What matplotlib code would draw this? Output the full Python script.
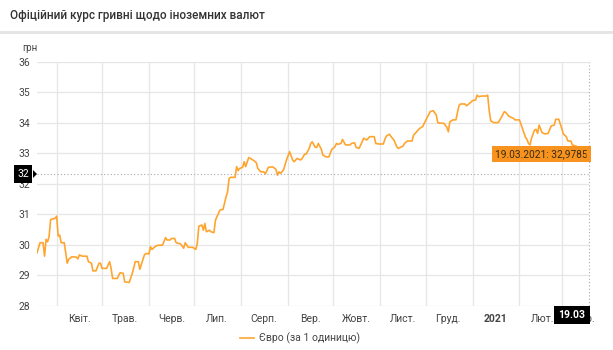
import matplotlib
matplotlib.use("Agg")
import matplotlib.pyplot as plt
import matplotlib.dates as mdates
import matplotlib.transforms as mtransforms
import pandas as pd
from matplotlib.patches import Polygon

plt.rcParams['font.family'] = ['Roboto', 'DejaVu Sans']

title = "Офіційний курс гривні щодо іноземних валют"
series_name = "Євро (за 1 одиницю)"
unit = "грн"

dates = [
    "2020-03-19", "2020-03-21", "2020-03-23", "2020-03-24", "2020-03-25", "2020-03-26", "2020-03-27", "2020-03-28",
    "2020-03-31", "2020-04-01", "2020-04-02", "2020-04-03", "2020-04-04", "2020-04-06", "2020-04-08", "2020-04-09",
    "2020-04-11", "2020-04-14", "2020-04-15", "2020-04-16", "2020-04-18", "2020-04-21", "2020-04-22", "2020-04-24",
    "2020-04-25", "2020-04-27", "2020-04-29", "2020-04-30", "2020-05-01", "2020-05-04", "2020-05-06", "2020-05-07",
    "2020-05-08", "2020-05-11", "2020-05-13", "2020-05-15", "2020-05-16", "2020-05-19", "2020-05-21", "2020-05-23",
    "2020-05-25", "2020-05-26", "2020-05-29", "2020-05-30", "2020-06-01", "2020-06-02", "2020-06-03", "2020-06-05",
    "2020-06-07", "2020-06-10", "2020-06-12", "2020-06-13", "2020-06-15", "2020-06-16", "2020-06-18", "2020-06-19",
    "2020-06-22", "2020-06-24", "2020-06-25", "2020-06-27", "2020-06-30", "2020-07-02", "2020-07-03", "2020-07-04",
    "2020-07-06", "2020-07-07", "2020-07-08", "2020-07-09", "2020-07-11", "2020-07-12", "2020-07-14", "2020-07-15",
    "2020-07-17", "2020-07-18", "2020-07-20", "2020-07-22", "2020-07-23", "2020-07-24", "2020-07-25", "2020-07-28",
    "2020-07-29", "2020-07-30", "2020-07-31", "2020-08-02", "2020-08-03", "2020-08-04", "2020-08-06", "2020-08-08",
    "2020-08-09", "2020-08-11", "2020-08-12", "2020-08-14", "2020-08-16", "2020-08-17", "2020-08-19", "2020-08-22",
    "2020-08-24", "2020-08-25", "2020-08-26", "2020-08-27", "2020-08-29", "2020-08-31", "2020-09-02", "2020-09-04",
    "2020-09-05", "2020-09-07", "2020-09-09", "2020-09-10", "2020-09-12", "2020-09-13", "2020-09-15", "2020-09-16",
    "2020-09-17", "2020-09-19", "2020-09-20", "2020-09-21", "2020-09-23", "2020-09-24", "2020-09-26", "2020-09-28",
    "2020-09-30", "2020-10-02", "2020-10-03", "2020-10-04", "2020-10-06", "2020-10-07", "2020-10-09", "2020-10-12",
    "2020-10-13", "2020-10-15", "2020-10-16", "2020-10-18", "2020-10-20", "2020-10-21", "2020-10-23", "2020-10-25",
    "2020-10-28", "2020-10-29", "2020-10-31", "2020-11-03", "2020-11-04", "2020-11-05", "2020-11-07", "2020-11-08",
    "2020-11-10", "2020-11-12", "2020-11-13", "2020-11-16", "2020-11-17", "2020-11-19", "2020-11-22", "2020-11-23",
    "2020-11-25", "2020-11-27", "2020-11-29", "2020-12-02", "2020-12-04", "2020-12-06", "2020-12-08", "2020-12-09",
    "2020-12-11", "2020-12-13", "2020-12-15", "2020-12-16", "2020-12-17", "2020-12-19", "2020-12-21", "2020-12-23",
    "2020-12-24", "2020-12-27", "2020-12-28", "2020-12-30", "2021-01-01", "2021-01-03", "2021-01-04", "2021-01-05",
    "2021-01-07", "2021-01-10", "2021-01-11", "2021-01-12", "2021-01-13", "2021-01-15", "2021-01-18", "2021-01-20",
    "2021-01-22", "2021-01-23", "2021-01-25", "2021-01-28", "2021-01-29", "2021-02-01", "2021-02-03", "2021-02-05",
    "2021-02-06", "2021-02-07", "2021-02-08", "2021-02-09", "2021-02-11", "2021-02-12", "2021-02-13", "2021-02-14",
    "2021-02-16", "2021-02-18", "2021-02-20", "2021-02-22", "2021-02-24", "2021-02-25", "2021-02-27", "2021-03-01",
    "2021-03-02", "2021-03-04", "2021-03-05", "2021-03-07", "2021-03-08", "2021-03-11", "2021-03-15", "2021-03-19",
]
euro = [
    29.74, 30.07, 30.07, 29.63, 30.18, 30.10, 30.27, 30.83,
    30.87, 30.94, 30.29, 30.32, 30.07, 30.07, 29.40, 29.53,
    29.61, 29.60, 29.54, 29.67, 29.63, 29.63, 29.45, 29.40,
    29.15, 29.15, 29.40, 29.40, 29.23, 29.23, 29.45, 29.23,
    28.90, 28.90, 29.09, 29.07, 28.79, 28.77, 29.07, 29.45,
    29.45, 29.20, 29.67, 29.72, 29.70, 29.94, 29.85, 29.94,
    29.99, 29.99, 30.24, 30.16, 30.16, 30.21, 30.21, 30.07,
    30.03, 29.89, 30.07, 29.92, 29.92, 29.85, 30.05, 30.61,
    30.65, 30.48, 30.70, 30.43, 30.48, 30.43, 30.40, 30.81,
    31.03, 31.14, 31.16, 31.57, 31.73, 32.17, 32.21, 32.21,
    32.56, 32.43, 32.50, 32.54, 32.72, 32.56, 32.86, 32.80,
    32.77, 32.69, 32.50, 32.39, 32.39, 32.32, 32.54, 32.55,
    32.47, 32.28, 32.39, 32.34, 32.45, 32.78, 33.05, 32.78,
    32.72, 32.83, 32.78, 32.80, 32.97, 32.97, 33.16, 33.32,
    33.37, 33.19, 33.19, 33.32, 33.13, 32.94, 32.88, 32.88,
    33.13, 33.21, 33.32, 33.29, 33.32, 33.45, 33.27, 33.27,
    33.32, 33.34, 33.19, 33.16, 33.37, 33.49, 33.43, 33.54,
    33.54, 33.32, 33.30, 33.30, 33.45, 33.56, 33.62, 33.55,
    33.43, 33.20, 33.16, 33.23, 33.32, 33.40, 33.40, 33.59,
    33.70, 33.81, 33.87, 34.17, 34.36, 34.39, 34.25, 34.00,
    33.98, 33.98, 33.85, 33.70, 34.03, 34.09, 34.09, 34.55,
    34.61, 34.61, 34.55, 34.63, 34.72, 34.74, 34.90, 34.85,
    34.87, 34.87, 34.90, 34.40, 34.06, 34.00, 34.00, 34.17,
    34.36, 34.33, 34.21, 34.14, 34.09, 34.09, 33.81, 33.52,
    33.45, 33.32, 33.27, 33.49, 33.76, 33.78, 33.65, 33.92,
    33.67, 33.63, 33.65, 33.89, 33.92, 34.11, 34.11, 33.81,
    33.63, 33.54, 33.40, 33.40, 33.27, 33.22, 33.12, 32.9785,
]

month_starts = ["2020-04-01", "2020-05-01", "2020-06-01", "2020-07-01", "2020-08-01", "2020-09-01",
                "2020-10-01", "2020-11-01", "2020-12-01", "2021-01-01", "2021-02-01", "2021-03-01"]
month_labels = ["Квіт.", "Трав.", "Черв.", "Лип.", "Серп.", "Вер.", "Жовт.", "Лист.", "Груд.", "2021", "Лют.", "Бер."]
y_ticks = [28, 29, 30, 31, 32, 33, 34, 35, 36]

cursor_value = 32.32
cursor_value_label = "32"
cursor_date_label = "19.03"

line_color = "#FFA52F"
tip_color = "#F7931E"

x = pd.to_datetime(dates)
starts = pd.to_datetime(month_starts)
mids = starts + pd.Timedelta(days=15)

W, H = 613, 350
fig = plt.figure(figsize=(W / 100, H / 100), dpi=100)

def fx(px):
    return px / W

def fy(py):
    return 1 - py / H

ax = fig.add_axes([fx(37), fy(306), fx(589) - fx(37), fy(61.5) - fy(306)])
ax.plot(x, euro, color=line_color, lw=1.2, label=series_name)

ax.set_xlim(x[0], x[-1])
ax.set_ylim(y_ticks[0], y_ticks[-1])
ax.set_yticks(y_ticks)
ax.set_xticks(starts)
ax.set_xticks(mids, minor=True)
ax.set_xticklabels([])
ax.set_xticklabels(month_labels, minor=True)
for lab in ax.get_xticklabels(minor=True):
    if lab.get_text().isdigit():
        lab.set_fontweight("bold")
        lab.set_color("#222222")
ax.tick_params(axis="both", which="both", length=0, labelsize=7.5, colors="#444444")
ax.tick_params(axis="x", which="minor", pad=6)
ax.tick_params(axis="y", pad=5)
ax.grid(True, which="major", color="#e6e6e6", lw=0.9)
for s in ax.spines.values():
    s.set_visible(False)

# crosshair
ax.axhline(cursor_value, color="#aaaaaa", lw=0.8, ls=(0, (1, 2)))
ax.axvline(x[-1], color="#aaaaaa", lw=0.8, ls=(0, (1, 2)), clip_on=False)

# tooltip on the last point, box to the left of it with a small arrow
last_text = f"{x[-1].strftime('%d.%m.%Y')}: " + f"{euro[-1]:.4f}".replace(".", ",")
ax.annotate(last_text, xy=(x[-1], euro[-1]), xytext=(-34, 0), textcoords="offset points",
            ha="center", va="center", fontsize=7.3, color="#3a2a10", zorder=6,
            bbox=dict(boxstyle="square,pad=0.3", fc=tip_color, ec="none"), annotation_clip=False)
px, py = ax.transData.transform((mdates.date2num(x[-1]), euro[-1]))
arrow = Polygon([[px - 2.5, py + 3.5], [px + 1.5, py], [px - 2.5, py - 3.5]], closed=True,
                transform=mtransforms.IdentityTransform(), fc=tip_color, ec="none", zorder=6)
fig.add_artist(arrow)

# header
fig.text(fx(10), fy(15), title, fontsize=8.5, fontweight="medium", color="#333333", va="center")
fig.add_artist(plt.Line2D([0, 1], [fy(32), fy(32)], color="#e4e4e4", lw=2))
fig.text(fx(22), fy(48), unit, fontsize=7, color="#444444", va="center")

# y cursor label
fig.text(fx(23), fy(174), cursor_value_label, fontsize=7.5, color="white", ha="center", va="center",
         bbox=dict(boxstyle="square,pad=0.35", fc="black", ec="none"))
fig.add_artist(Polygon([[fx(33), fy(170)], [fx(37), fy(174)], [fx(33), fy(178)]], closed=True,
                       transform=fig.transFigure, fc="black", ec="none"))

# x cursor label
fig.text(fx(572), fy(315), cursor_date_label, fontsize=7.5, color="white", ha="center", va="center",
         fontweight="bold", bbox=dict(boxstyle="square,pad=0.4", fc="black", ec="none"), zorder=5)

fig.legend(loc="center", bbox_to_anchor=(fx(300), fy(338)), frameon=False, fontsize=7.5,
           handlelength=1.3, handletextpad=0.5, labelcolor="#444444")

fig.savefig("out.png", dpi=100)
